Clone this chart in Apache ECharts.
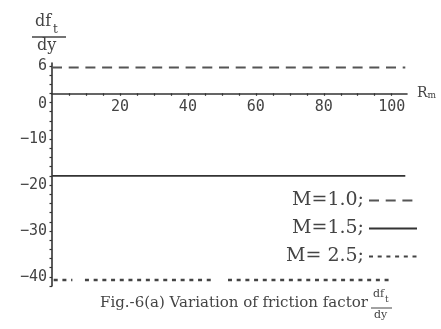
<!DOCTYPE html>
<html>
<head>
<meta charset="utf-8">
<script src="https://cdn.jsdelivr.net/npm/echarts@6/dist/echarts.min.js"></script>
<style>html,body{margin:0;padding:0;background:#fff;}#c{width:441px;height:329px;}</style>
</head>
<body>
<div id="c"></div>
<script>
// Data
const seriesNames = ['M=1.0;', 'M=1.5;', 'M= 2.5;'];
const rmM10 = [0, 104];
const valM10 = [5.6, 5.6];
const rmM15 = [0, 104];
const valM15 = [-18, -18];
// dotted curve with the small gaps seen in the picture (null = gap)
const rmM25 = [0.5, 6, null, 9.7, 48, null, 51.8, 100.3];
const valM25 = [-40.7, -40.7, null, -40.7, -40.7, null, -40.7, -40.7];
const xTickLabels = [20, 40, 60, 80, 100];
const yTickLabels = [6, 0, -10, -20, -30, -40];

function pairs(xs, ys) {
  return xs.map((x, i) => (x === null ? [null, null] : [x, ys[i]]));
}

const X_MIN = 0, X_MAX = 104.5, Y_MIN = -42, Y_MAX = 6.6;
const G_LEFT = 52, G_TOP = 63, G_W = 355, G_H = 223;
const zeroOffset = G_H * Y_MAX / (Y_MAX - Y_MIN);

const chart = echarts.init(document.getElementById('c'), null, {renderer: 'canvas'});
const labelFont = 'DejaVu Sans Mono';
const serif = 'DejaVu Serif';
const option = {
  animation: false,
  backgroundColor: '#fff',
  grid: [
    {left: G_LEFT, top: G_TOP, width: G_W, height: G_H},
    {left: G_LEFT, top: G_TOP, width: G_W, height: zeroOffset}
  ],
  xAxis: [
    {type: 'value', gridIndex: 0, min: X_MIN, max: X_MAX, show: false},
    {
      type: 'value', gridIndex: 1, min: X_MIN, max: X_MAX, interval: 5, position: 'bottom',
      axisLine: {onZero: false, lineStyle: {color: '#333', width: 1.6}},
      axisTick: {show: true, length: 2.5, lineStyle: {color: '#333', width: 1.2}},
      splitLine: {show: false},
      axisLabel: {
        margin: 6, color: '#444', fontFamily: labelFont, fontSize: 15,
        showMaxLabel: false, showMinLabel: false,
        formatter: v => (xTickLabels.indexOf(v) >= 0 ? String(v) : '')
      },
      name: '{r|R}{s|m}', nameLocation: 'end', nameGap: 10,
      nameTextStyle: {
        rich: {
          r: {fontFamily: serif, fontSize: 14, color: '#444', verticalAlign: 'bottom'},
          s: {fontFamily: serif, fontSize: 9, color: '#444', verticalAlign: 'bottom'}
        }
      }
    }
  ],
  yAxis: [
    {
      type: 'value', gridIndex: 0, min: Y_MIN, max: Y_MAX, interval: 2,
      axisLine: {onZero: false, lineStyle: {color: '#333', width: 1.6}},
      axisTick: {show: true, length: 2.5, lineStyle: {color: '#333', width: 1.2}},
      splitLine: {show: false},
      axisLabel: {
        margin: 5, color: '#444', fontFamily: labelFont, fontSize: 15,
        showMaxLabel: false,
        formatter: v => {
          if (yTickLabels.indexOf(v) < 0) return '';
          if (v === 0) return '{z|0}';
          return String(v).replace('-', '\u2212');
        },
        rich: {z: {fontFamily: labelFont, fontSize: 15, color: '#444', padding: [22, 0, 0, 0]}}
      }
    },
    {type: 'value', gridIndex: 1, min: 0, max: 1, show: false}
  ],
  legend: {
    orient: 'vertical', right: 18, top: 186, align: 'right',
    itemWidth: 48, itemHeight: 14, itemGap: 9,
    itemStyle: {opacity: 0},
    textStyle: {fontFamily: serif, fontSize: 19, color: '#444'},
    data: seriesNames
  },
  series: [
    {name: seriesNames[0], type: 'line', xAxisIndex: 0, yAxisIndex: 0, symbol: 'none', data: pairs(rmM10, valM10),
     lineStyle: {color: '#555', width: 2, type: [10, 6.7]}, itemStyle: {color: '#555'}},
    {name: seriesNames[1], type: 'line', xAxisIndex: 0, yAxisIndex: 0, symbol: 'none', data: pairs(rmM15, valM15),
     lineStyle: {color: '#333', width: 1.8, type: 'solid'}, itemStyle: {color: '#333'}},
    {name: seriesNames[2], type: 'line', xAxisIndex: 0, yAxisIndex: 0, symbol: 'none', data: pairs(rmM25, valM25), connectNulls: false,
     lineStyle: {color: '#444', width: 2.6, type: [4, 4.7]}, itemStyle: {color: '#444'}}
  ],
  graphic: [
    {type: 'text', left: 35, top: 14, style: {text: 'df', font: '16px ' + serif, fill: '#444'}},
    {type: 'text', left: 53, top: 24, style: {text: 't', font: '12px ' + serif, fill: '#444'}},
    {type: 'line', shape: {x1: 32, y1: 37, x2: 66, y2: 37}, style: {stroke: '#444', lineWidth: 1.5}},
    {type: 'text', left: 37, top: 38, style: {text: 'dy', font: '16px ' + serif, fill: '#444'}},
    {type: 'text', left: 100, top: 296, style: {text: 'Fig.-6(a) Variation of friction factor', font: '15px ' + serif, fill: '#444'}},
    {type: 'text', left: 373, top: 289, style: {text: 'df', font: '11px ' + serif, fill: '#444'}},
    {type: 'text', left: 385, top: 295, style: {text: 't', font: '9px ' + serif, fill: '#444'}},
    {type: 'line', shape: {x1: 371, y1: 308, x2: 392, y2: 308}, style: {stroke: '#444', lineWidth: 1}},
    {type: 'text', left: 374, top: 310, style: {text: 'dy', font: '11px ' + serif, fill: '#444'}}
  ]
};
chart.setOption(option);
</script>
</body>
</html>
